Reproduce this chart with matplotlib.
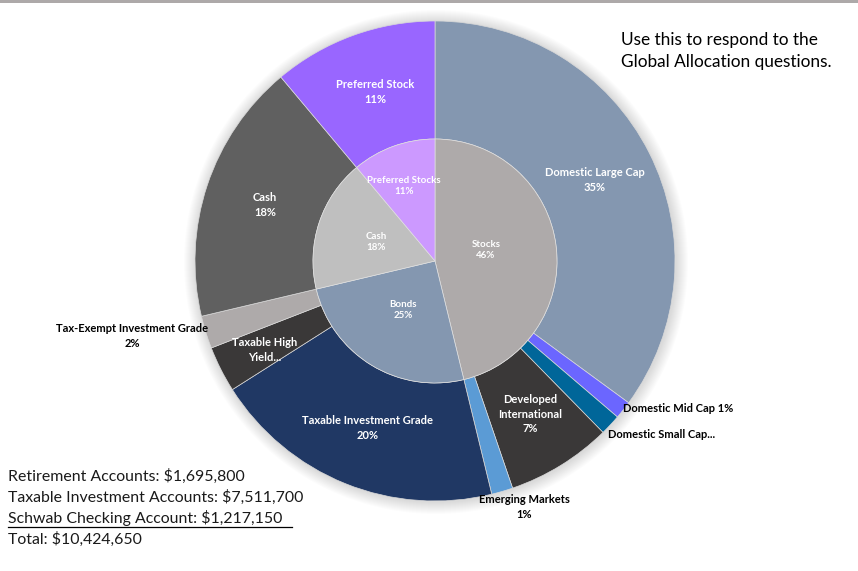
import matplotlib.pyplot as plt
from matplotlib.patches import Circle, Rectangle

# inner ring: asset classes
inner_labels = ["Stocks", "Bonds", "Cash", "Preferred Stocks"]
inner_values = [46.2, 25.1, 17.6, 11.1]
inner_pct = ["46%", "25%", "18%", "11%"]
inner_colors = ["#AEAAAA", "#8497B0", "#BFBFBF", "#CC99FF"]

# outer ring: sub classes
outer_labels = ["Domestic Large Cap", "Domestic Mid Cap", "Domestic Small Cap",
                "Developed International", "Emerging Markets",
                "Taxable Investment Grade", "Taxable High Yield",
                "Tax-Exempt Investment Grade", "Cash", "Preferred Stock"]
outer_values = [35.06, 1.2, 1.4, 7.1, 1.44, 19.8, 3.1, 2.2, 17.6, 11.1]
outer_colors = ["#8497B0", "#6B66FF", "#006699", "#3A3838", "#5B9BD5",
                "#203864", "#3A3838", "#AEAAAA", "#606060", "#9966FF"]

notes = ["Retirement Accounts: $1,695,800",
         "Taxable Investment Accounts: $7,511,700",
         "Schwab Checking Account: $1,217,150",
         "Total: $10,424,650"]

W, H = 858, 571
fig = plt.figure(figsize=(W / 100, H / 100), dpi=100)
ax = fig.add_axes([0, 0, 1, 1])

cx, cy = 435, H - 261
R, r = 240, 122

# soft shadow behind the ring
for k in range(12, 0, -1):
    ax.add_patch(Circle((cx + 1, cy - 1), R + k, color="black", alpha=0.012, lw=0, zorder=0))

ax.pie(outer_values, colors=outer_colors, radius=R, center=(cx, cy),
       startangle=90, counterclock=False,
       wedgeprops=dict(width=R - r, edgecolor="#D9D9D9", linewidth=0.5), frame=True)
ax.pie(inner_values, colors=inner_colors, radius=r, center=(cx, cy),
       startangle=90, counterclock=False,
       wedgeprops=dict(edgecolor="#E0E0E0", linewidth=0.5), frame=True)
ax.set_xlim(0, W)
ax.set_ylim(0, H)
ax.set_aspect("equal")
ax.axis("off")

lab = dict(family=["Lato", "DejaVu Sans"], fontweight="bold", ha="center", va="center")


def put(x, y, text, color="white", size=8):
    ax.text(x, H - y, text, color=color, fontsize=size, linespacing=1.35, **lab)


put(375, 92, "Preferred Stock\n11%")
put(595, 180, "Domestic Large Cap\n35%")
put(265, 205, "Cash\n18%")
put(132, 336, "Tax-Exempt Investment Grade\n2%", color="black")
put(265, 350, "Taxable High\nYield...")
put(368, 428, "Taxable Investment Grade\n20%")
put(530, 414, "Developed\nInternational\n7%")
put(678, 408, "Domestic Mid Cap 1%", color="black")
put(662, 435, "Domestic Small Cap...", color="black")
put(524, 507, "Emerging Markets\n1%", color="black")

put(404, 186, "Preferred Stocks\n11%", size=7)
put(376, 242, "Cash\n18%", size=7)
put(486, 250, "Stocks\n46%", size=7)
put(403, 310, "Bonds\n25%", size=7)

# top border line
ax.add_patch(Rectangle((0, H - 2.5), W, 2.5, color="#ADA9A9", lw=0))

for i, line in enumerate(["Use this to respond to the", "Global Allocation questions."]):
    ax.text(621, H - (40 + 22 * i), line, family=["Lato", "DejaVu Sans"], fontsize=12.4,
            ha="left", va="center", color="black")

for i, line in enumerate(notes):
    ax.text(8, H - (476 + 21 * i), line, family=["Lato", "DejaVu Sans"], fontsize=11.4,
            ha="left", va="center", color="#1a1a1a")
ax.plot([8, 292], [H - 527, H - 527], color="black", lw=0.9)

fig.savefig("out.png", dpi=100)
